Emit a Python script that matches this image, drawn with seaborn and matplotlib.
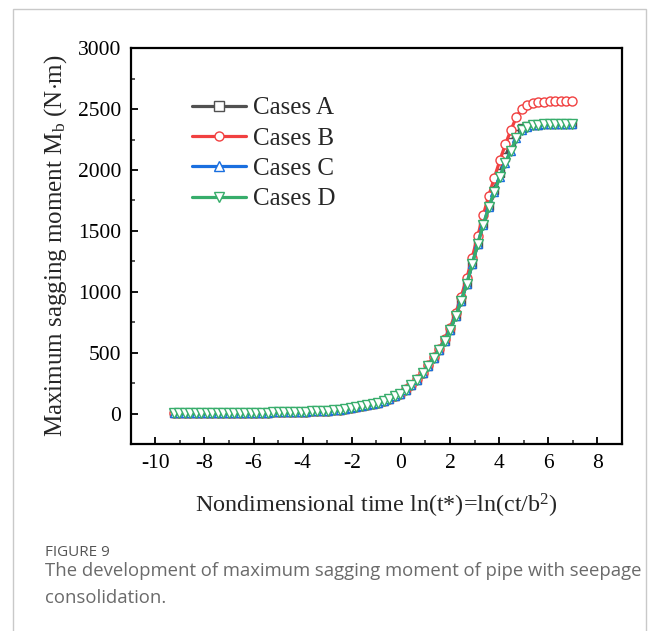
import matplotlib
matplotlib.use("Agg")
import matplotlib.pyplot as plt
from matplotlib.patches import Rectangle
from matplotlib.ticker import MultipleLocator
import seaborn as sns
import pandas as pd

# ---- data ----
ln_t = [-9.25, -9.03, -8.8, -8.58, -8.35, -8.13, -7.9, -7.68, -7.45, -7.23,
        -7.0, -6.78, -6.55, -6.33, -6.1, -5.88, -5.65, -5.43, -5.2, -4.98,
        -4.75, -4.53, -4.3, -4.08, -3.85, -3.63, -3.4, -3.18, -2.95, -2.73,
        -2.5, -2.28, -2.05, -1.83, -1.6, -1.38, -1.15, -0.93, -0.7, -0.48,
        -0.25, -0.03, 0.2, 0.43, 0.65, 0.88, 1.1, 1.33, 1.55, 1.78,
        2.0, 2.23, 2.45, 2.68, 2.9, 3.13, 3.35, 3.58, 3.8, 4.03,
        4.25, 4.48, 4.7, 4.93, 5.15, 5.38, 5.6, 5.83, 6.05, 6.28,
        6.5, 6.73, 6.95]

cases_c = [2, 2, 2, 3, 3, 3, 3, 4, 4, 4,
           5, 5, 5, 6, 6, 7, 7, 8, 9, 9,
           10, 11, 12, 14, 15, 17, 19, 22, 25, 29,
           33, 38, 44, 50, 58, 67, 77, 89, 104, 121,
           141, 162, 197, 236, 278, 330, 392, 457, 522, 600,
           685, 800, 925, 1065, 1225, 1395, 1550, 1695, 1820, 1945,
           2060, 2160, 2260, 2325, 2352, 2366, 2373, 2376, 2378, 2379,
           2380, 2380, 2380]

cases_d = [2, 2, 2, 3, 3, 3, 3, 4, 4, 4,
           5, 5, 5, 6, 6, 7, 7, 8, 9, 9,
           10, 11, 12, 14, 15, 17, 19, 22, 25, 29,
           33, 38, 44, 50, 58, 67, 77, 89, 104, 121,
           141, 162, 197, 236, 278, 330, 392, 457, 522, 600,
           685, 800, 925, 1065, 1225, 1395, 1550, 1695, 1820, 1945,
           2060, 2160, 2260, 2325, 2352, 2366, 2373, 2376, 2378, 2379,
           2380, 2380, 2380]

cases_a = [2, 2, 2, 3, 3, 3, 3, 4, 4, 4,
           5, 5, 5, 6, 6, 7, 7, 8, 9, 9,
           10, 11, 12, 14, 15, 17, 19, 22, 25, 29,
           33, 38, 44, 50, 58, 67, 77, 89, 104, 121,
           141, 162, 197, 236, 278, 330, 392, 457, 522, 600,
           685, 800, 925, 1065, 1225, 1395, 1555, 1705, 1840, 1975,
           2110, 2230, 2300, 2345, 2362, 2368, 2373, 2376, 2378, 2379,
           2380, 2380, 2380]

cases_b = [2, 2, 2, 3, 3, 3, 3, 4, 4, 4,
           5, 5, 5, 6, 6, 7, 7, 8, 9, 9,
           10, 11, 12, 14, 15, 17, 19, 22, 25, 29,
           33, 38, 44, 50, 58, 67, 77, 89, 104, 121,
           141, 162, 198, 238, 281, 333, 396, 463, 530, 612,
           705, 825, 960, 1110, 1280, 1460, 1630, 1790, 1935, 2080,
           2210, 2330, 2435, 2505, 2537, 2552, 2559, 2562, 2564, 2565,
           2565, 2565, 2565]

labels = ["Cases A", "Cases B", "Cases C", "Cases D"]
x_ticks = [-10, -8, -6, -4, -2, 0, 2, 4, 6, 8]
y_ticks = [0, 500, 1000, 1500, 2000, 2500, 3000]

# ---- style ----
sns.set_style("ticks")
plt.rcParams["font.family"] = ["Liberation Serif", "DejaVu Serif"]
plt.rcParams["mathtext.fontset"] = "custom"
plt.rcParams["mathtext.rm"] = "Liberation Serif"
plt.rcParams["mathtext.it"] = "Liberation Serif:italic"

W, H = 656, 631
fig = plt.figure(figsize=(W / 100, H / 100), dpi=100)
fig.patch.set_facecolor("white")

# outer light frame
fig.add_artist(Rectangle((13 / W, -0.02), (646 - 13) / W, 1.02 - 9 / H,
                         transform=fig.transFigure, fill=False,
                         edgecolor="#c9c9c9", linewidth=1.0))

left, right, top, bottom = 130.7 / W, 622 / W, 1 - 48.3 / H, 1 - 444 / H
ax = fig.add_axes([left, bottom, right - left, top - bottom])

series = [cases_a, cases_b, cases_c, cases_d]
colors = ["#515151", "#F14040", "#1A6FDF", "#37AD6B"]
markers = ["s", "o", "^", "v"]
msizes = [5.5, 6.5, 5.5, 7.5]

for vals, lab, col, mk, ms in zip(series, labels, colors, markers, msizes):
    df = pd.DataFrame({"x": ln_t, "y": vals})
    sns.lineplot(data=df, x="x", y="y", ax=ax, color=col, linewidth=2.3,
                 marker=mk, markersize=ms, markerfacecolor="white",
                 markeredgecolor=col, markeredgewidth=1.0, label=lab,
                 estimator=None, sort=False)

ax.set_xlim(-11, 9)
ax.set_ylim(-250, 3000)
ax.set_xticks(x_ticks)
ax.set_yticks(y_ticks)
ax.set_xticklabels([str(v) for v in x_ticks])
ax.set_yticklabels([str(v) for v in y_ticks])
ax.xaxis.set_minor_locator(MultipleLocator(1))
ax.yaxis.set_minor_locator(MultipleLocator(250))
ax.tick_params(axis="both", which="major", direction="in", length=5,
               width=1.3, labelsize=15.5, colors="black")
ax.tick_params(axis="both", which="minor", direction="in", length=2.6,
               width=1.1)
ax.tick_params(axis="x", which="major", pad=7)
ax.tick_params(axis="y", which="major", pad=7)
for s in ax.spines.values():
    s.set_linewidth(1.6)
    s.set_color("black")

ax.set_xlabel(r"Nondimensional time ln(t*)=ln(ct/b$^{2}$)", fontsize=17.4,
              labelpad=14)
ax.set_ylabel(r"Maximum sagging moment M$_{\mathrm{b}}$ (N$\cdot$m)",
              fontsize=18, labelpad=6)

# legend
leg = ax.legend(loc="upper left", bbox_to_anchor=(192 / W, 1 - 97 / H),
                bbox_transform=fig.transFigure, frameon=False, fontsize=18,
                handlelength=2.15, handletextpad=0.3, labelspacing=0.31,
                borderpad=0, borderaxespad=0)
for h in leg.legend_handles:
    h.set_markersize(6.5)

# caption
fig.text(45 / W, 1 - 552 / H, "FIGURE 9", fontsize=11, color="#555555",
         family="Open Sans", va="center", ha="left")
fig.text(45 / W, 1 - 571 / H,
         "The development of maximum sagging moment of pipe with seepage",
         fontsize=13.3, color="#6a6a6a", family="Open Sans", va="center",
         ha="left")
fig.text(45 / W, 1 - 598 / H, "consolidation.", fontsize=13.3,
         color="#6a6a6a", family="Open Sans", va="center", ha="left")

fig.savefig("out.png", dpi=100, facecolor="white")
